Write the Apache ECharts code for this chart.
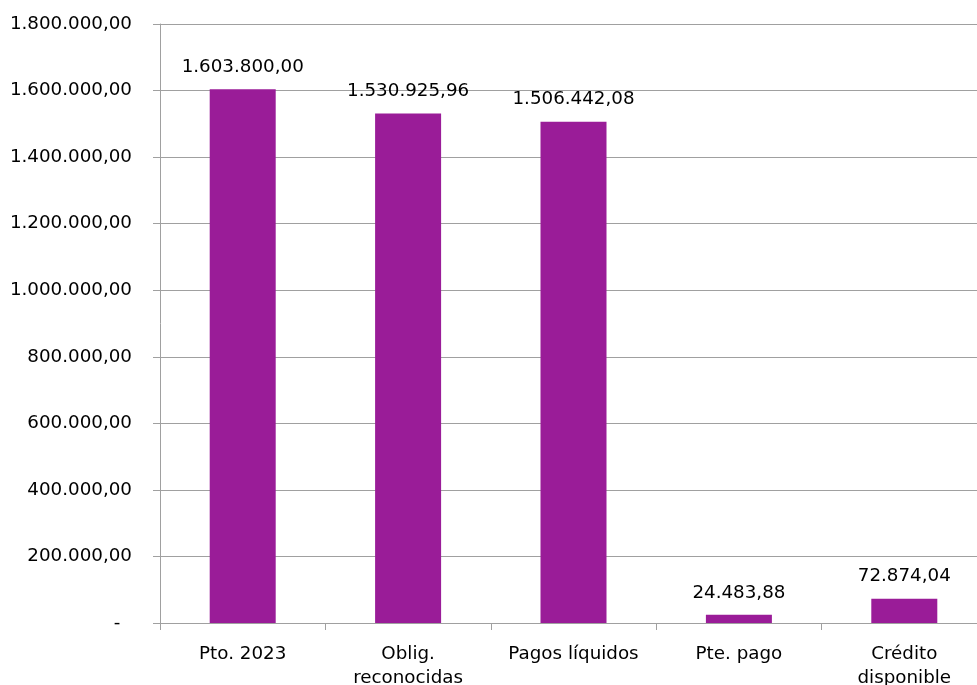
<!DOCTYPE html>
<html><head><meta charset="utf-8">
<script src="https://cdn.jsdelivr.net/npm/echarts@6/dist/echarts.min.js"></script>
<style>html,body{margin:0;padding:0;background:#fff}#c{width:977px;height:685px}</style>
</head><body><div id="c"></div>
<script>
const categories = ["Pto. 2023", "Oblig.\nreconocidas", "Pagos líquidos", "Pte. pago", "Crédito\ndisponible"];
const values = [1603800.00, 1530925.96, 1506442.08, 24483.88, 72874.04];
const yMin = 0, yMax = 1800000, yStep = 200000;

function fmt(v) {
  if (Math.abs(v) < 0.005) return '-\u00a0\u00a0';
  const parts = v.toFixed(2).split('.');
  const int = parts[0].replace(/\B(?=(\d{3})+(?!\d))/g, '.');
  return int + ',' + parts[1];
}
const FONT = '"DejaVu Sans", sans-serif';
const FS = 18.3;
const chart = echarts.init(document.getElementById('c'), null, {renderer: 'canvas'});
chart.setOption({
  animation: false,
  grid: {left: 160, right: -10, top: 24, bottom: 62, containLabel: false, outerBoundsMode: 'none'},
  xAxis: {
    type: 'category', data: categories,
    axisLine: {lineStyle: {color: '#a0a0a0', width: 1}},
    axisTick: {show: true, length: 7, alignWithLabel: false, lineStyle: {color: '#a0a0a0'}},
    axisLabel: {color: '#000', fontFamily: FONT, fontSize: FS, margin: 19, lineHeight: 24, interval: 0}
  },
  yAxis: {
    type: 'value', min: yMin, max: yMax, interval: yStep,
    axisLine: {show: true, lineStyle: {color: '#a0a0a0', width: 1}},
    axisTick: {show: true, length: 7, inside: false, lineStyle: {color: '#a0a0a0'}},
    splitLine: {show: true, lineStyle: {color: '#a0a0a0', width: 1}},
    axisLabel: {color: '#000', fontFamily: FONT, fontSize: FS, margin: 28, formatter: v => fmt(v)}
  },
  series: [{
    type: 'bar', data: values, barWidth: 66,
    itemStyle: {color: '#9A1C98'},
    label: {show: true, position: 'top', distance: 13, color: '#000', fontFamily: FONT, fontSize: FS, formatter: p => fmt(p.value)}
  }]
});
</script></body></html>
